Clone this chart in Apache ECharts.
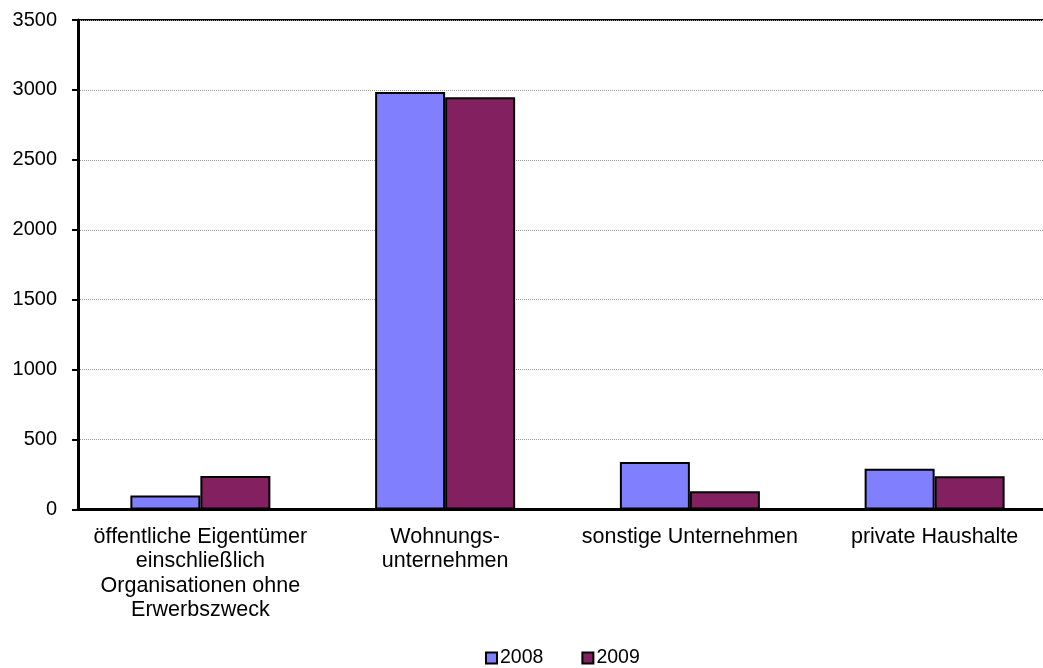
<!DOCTYPE html>
<html><head><meta charset="utf-8">
<script src="https://cdn.jsdelivr.net/npm/echarts@6/dist/echarts.min.js"></script>
<style>html,body{margin:0;padding:0;background:#fff}#c{width:1043px;height:668px}</style>
</head><body><div id="c"></div>
<script>
const categories = ['öffentliche Eigentümer\neinschließlich\nOrganisationen ohne\nErwerbszweck', 'Wohnungs-\nunternehmen', 'sonstige Unternehmen', 'private Haushalte'];
const seriesNames = ['2008', '2009'];
const values2008 = [100, 2985, 340, 292];
const values2009 = [240, 2947, 130, 237];
const yTicks = {min: 0, max: 3500, interval: 500};

const chart = echarts.init(document.getElementById('c'));
const font = 'Liberation Sans, Arial, sans-serif';
chart.setOption({
  animation: false,
  grid: {left: 78, top: 20, width: 979, height: 489.5, outerBoundsMode: 'none', containLabel: false,
         show: true, borderColor: '#000', borderWidth: 2, backgroundColor: 'transparent'},
  legend: {
    top: 643, left: 480, itemWidth: 11, itemHeight: 11, itemGap: 38,
    textStyle: {fontFamily: font, fontSize: 19.5, color: '#000', padding: [0,0,0,-2]},
    data: seriesNames.map(n => ({name: n, icon: 'rect', itemStyle: {borderColor: '#000', borderWidth: 2}}))
  },
  xAxis: {
    type: 'category', data: categories,
    axisLine: {lineStyle: {color: '#000', width: 3}},
    axisTick: {show: false},
    axisLabel: {fontFamily: font, fontSize: 21.5, color: '#000', lineHeight: 24.5, margin: 15, interval: 0}
  },
  yAxis: {
    type: 'value', min: yTicks.min, max: yTicks.max, interval: yTicks.interval,
    axisLine: {show: true, lineStyle: {color: '#000', width: 3}},
    axisTick: {show: true, length: 6, lineStyle: {color: '#000', width: 2}},
    axisLabel: {fontFamily: font, fontSize: 20, color: '#000', margin: 21, formatter: v => String(v)},
    splitLine: {lineStyle: {color: '#999', type: 'dotted', width: 1}}
  },
  series: [
    {name: seriesNames[0], type: 'bar', data: values2008, barWidth: 70, barGap: '0%',
     itemStyle: {color: '#8080FF', borderColor: '#000', borderWidth: 2}},
    {name: seriesNames[1], type: 'bar', data: values2009, barWidth: 70, barGap: '0%',
     itemStyle: {color: '#822060', borderColor: '#000', borderWidth: 2}}
  ]
});
</script></body></html>
